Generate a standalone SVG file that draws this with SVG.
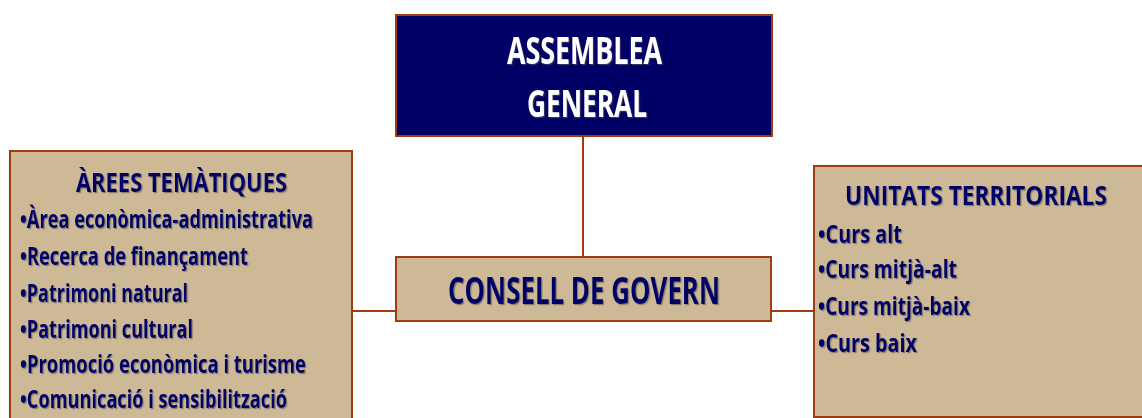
<svg xmlns="http://www.w3.org/2000/svg" width="1142" height="418" viewBox="0 0 1142 418">
<defs>
<filter id="sh" x="-2%" y="-4%" width="104%" height="110%">
<feDropShadow dx="1.2" dy="1.2" stdDeviation="0.5" flood-color="#555555" flood-opacity="0.6"/>
</filter>
<style>
.box{fill:#CEB996;stroke:#9C3D10;stroke-width:2}
.navy{fill:#000066;stroke:#9C3D10;stroke-width:2}
.conn line{stroke:#9C3D10;stroke-width:2}
text{font-family:"Open Sans","Liberation Sans",sans-serif;font-weight:bold;filter:url(#sh)}
.t{fill:#000066}
.w{fill:#FFFFFF;font-size:38px}
.big{font-size:38px}
.h{font-size:27px}
.i{font-size:25px}
</style>
</defs>
<rect width="1142" height="418" fill="#FFFFFF"/>
<g id="connectors" class="conn">
<line x1="583" y1="136" x2="583" y2="257"/>
<line x1="352" y1="311" x2="396" y2="311"/>
<line x1="771" y1="311" x2="814" y2="311"/>
</g>
<g id="assemblea">
<rect class="navy" x="396" y="15" width="376" height="121"/>
<text class="w" x="584.5" y="64" text-anchor="middle" textLength="155" lengthAdjust="spacingAndGlyphs">ASSEMBLEA</text>
<text class="w" x="587" y="117" text-anchor="middle" textLength="120" lengthAdjust="spacingAndGlyphs">GENERAL</text>
</g>
<g id="arees">
<rect class="box" x="10" y="151" width="342" height="280"/>
<text class="t h" x="181.5" y="192" text-anchor="middle" textLength="211" lengthAdjust="spacingAndGlyphs">ÀREES TEMÀTIQUES</text>
<text class="t i" x="20" y="228" textLength="293" lengthAdjust="spacingAndGlyphs">•Àrea econòmica-administrativa</text>
<text class="t i" x="20" y="265" textLength="228" lengthAdjust="spacingAndGlyphs">•Recerca de finançament</text>
<text class="t i" x="20" y="302" textLength="168" lengthAdjust="spacingAndGlyphs">•Patrimoni natural</text>
<text class="t i" x="20" y="338" textLength="173" lengthAdjust="spacingAndGlyphs">•Patrimoni cultural</text>
<text class="t i" x="20" y="373" textLength="286" lengthAdjust="spacingAndGlyphs">•Promoció econòmica i turisme</text>
<text class="t i" x="20" y="408" textLength="267" lengthAdjust="spacingAndGlyphs">•Comunicació i sensibilització</text>
</g>
<g id="consell">
<rect class="box" x="396" y="257" width="375" height="64"/>
<text class="t big" x="584" y="304" text-anchor="middle" textLength="272" lengthAdjust="spacingAndGlyphs">CONSELL DE GOVERN</text>
</g>
<g id="unitats">
<rect class="box" x="814" y="166" width="340" height="251"/>
<text class="t h" x="976" y="205" text-anchor="middle" textLength="262" lengthAdjust="spacingAndGlyphs">UNITATS TERRITORIALS</text>
<text class="t i" x="818" y="243" textLength="84" lengthAdjust="spacingAndGlyphs">•Curs alt</text>
<text class="t i" x="818" y="278" textLength="139" lengthAdjust="spacingAndGlyphs">•Curs mitjà-alt</text>
<text class="t i" x="818" y="315" textLength="152" lengthAdjust="spacingAndGlyphs">•Curs mitjà-baix</text>
<text class="t i" x="818" y="352" textLength="99" lengthAdjust="spacingAndGlyphs">•Curs baix</text>
</g>
</svg>
